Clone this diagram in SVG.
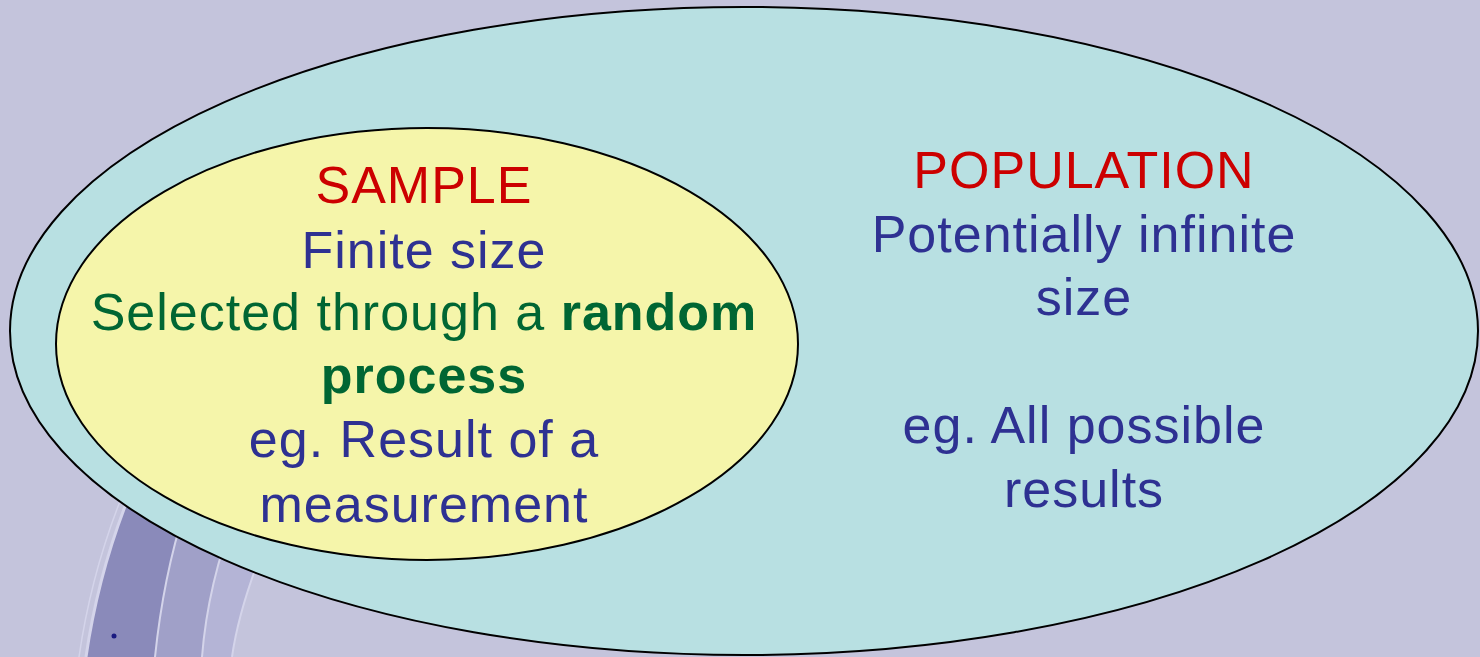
<svg xmlns="http://www.w3.org/2000/svg" width="1480" height="657" viewBox="0 0 1480 657">
<style>
.t{font-family:"Liberation Sans","DejaVu Sans",sans-serif;font-size:52px;letter-spacing:1px;text-anchor:middle}
.red{fill:#cc0000}.blue{fill:#2e3192}.green{fill:#006633}
.b{font-weight:bold}
</style>
<rect width="1480" height="657" fill="#c4c4dc"/>
<g id="decor">
<path d="M140,470 Q100,560 86,657 L155,657 Q165,560 195,480 Z" fill="#8a8aba"/>
<path d="M195,480 Q165,560 155,657 L202,657 Q208,580 240,500 Z" fill="#a0a0c8"/>
<path d="M240,500 Q208,580 202,657 L232,657 Q240,600 275,520 Z" fill="#b4b4d6"/>
<path d="M140,470 Q100,560 86,657" fill="none" stroke="#d4d4ea" stroke-width="3"/>
<path d="M133,470 Q93,560 79,657" fill="none" stroke="#d4d4ea" stroke-width="1.5"/>
<path d="M195,480 Q165,560 155,657" fill="none" stroke="#d4d4ea" stroke-width="2"/>
<path d="M240,500 Q208,580 202,657" fill="none" stroke="#d4d4ea" stroke-width="2"/>
<path d="M275,520 Q240,600 232,657" fill="none" stroke="#d4d4ea" stroke-width="2"/>
<circle cx="114" cy="636" r="2.5" fill="#1a1a80"/>
</g>
<g id="population">
<ellipse cx="744" cy="331" rx="734" ry="324" fill="#b8e0e2" stroke="#000" stroke-width="2"/>
<text class="t red" x="1084" y="188">POPULATION</text>
<text class="t blue" x="1084" y="252">Potentially infinite</text>
<text class="t blue" x="1084" y="315">size</text>
<text class="t blue" x="1084" y="443">eg. All possible</text>
<text class="t blue" x="1084" y="507">results</text>
</g>
<g id="sample">
<ellipse cx="427" cy="344" rx="371" ry="216" fill="#f5f5aa" stroke="#000" stroke-width="2"/>
<text class="t red" x="424" y="203">SAMPLE</text>
<text class="t blue" x="424" y="268">Finite size</text>
<text class="t green" x="424" y="330">Selected through a <tspan class="b">random</tspan></text>
<text class="t green b" x="424" y="393">process</text>
<text class="t blue" x="424" y="457">eg. Result of a</text>
<text class="t blue" x="424" y="522">measurement</text>
</g>
<g id="connectors"/>
</svg>
